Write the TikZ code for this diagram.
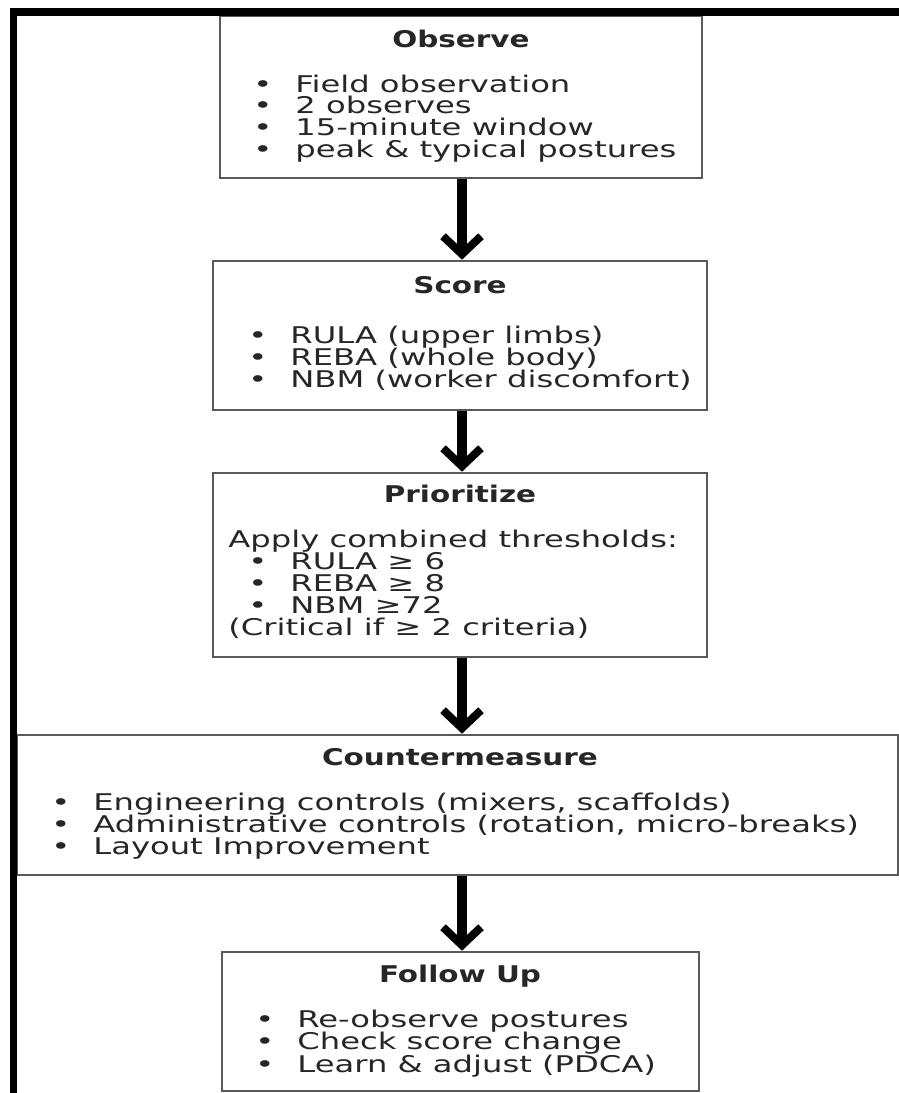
\documentclass[tikz,border=0pt]{standalone}
\usepackage{fontspec}
\setmainfont{DejaVu Sans}[FakeStretch=1.40]
\newfontfamily\headfont{DejaVu Sans}[FakeStretch=1.28]
\usetikzlibrary{arrows.meta, fit, positioning}

\tikzset{
  boxnode/.style={draw=black!65, line width=1.3pt, inner sep=0pt, fill=white},
  headtxt/.style={font=\headfont\bfseries\fontsize{11.5}{11}\selectfont, text=black!85, anchor=base, inner sep=0pt},
  itemtxt/.style={font=\fontsize{11.5}{11}\selectfont, text=black!85, anchor=base west, inner sep=0pt},
  flowarrow/.style={line width=5pt, -{Straight Barb[length=9pt, width=19pt, line width=4pt]}},
}
\newcommand{\bul}{\makebox[21pt][l]{•}}

\begin{document}
\begin{tikzpicture}[x=0.5pt, y=-0.5pt]
  \useasboundingbox (0,0) rectangle (899,1093);

  % the five steps
  \node[boxnode, fit={(220,16) (702,178)}] (observe) {};
  \node[boxnode, fit={(213,261) (707,410)}] (score) {};
  \node[boxnode, fit={(213,473) (707,657)}] (prior) {};
  \node[boxnode, fit={(17,735) (898,875)}] (counter) {};
  \node[boxnode, fit={(222,952) (699,1091)}] (follow) {};

  % frame
  \fill (10,8) rectangle (899,16);
  \fill (10,8) rectangle (17,1093);

  \node[headtxt] (observeT) at (461,47) {Observe};
  \foreach \t [count=\i from 0] in {Field observation, 2 observes, 15-minute window, peak \& typical postures}
    \node[itemtxt] (observe-\i) at (253,92+21.7*\i) {\bul\t};

  \node[headtxt] (scoreT) at (460,293) {Score};
  \foreach \t [count=\i from 0] in {RULA (upper limbs), REBA (whole body), NBM (worker discomfort)}
    \node[itemtxt] (score-\i) at (248,343+22*\i) {\bul\t};

  \node[headtxt] (priorT) at (460,502) {Prioritize};
  \node[itemtxt] (priorA) at (228,547) {Apply combined thresholds:};
  \foreach \t [count=\i from 0] in {RULA ≥ 6, REBA ≥ 8, NBM ≥72}
    \node[itemtxt] (prior-\i) at (248,569+22*\i) {\bul\t};
  \node[itemtxt] (priorC) at (228,635) {(Critical if ≥ 2 criteria)};

  \node[headtxt] (counterT) at (460,765) {Countermeasure};
  \foreach \t [count=\i from 0] in {{Engineering controls (mixers, scaffolds)}, {Administrative controls (rotation, micro-breaks)}, Layout Improvement}
    \node[itemtxt] (counter-\i) at (51,810+22*\i) {\bul\t};

  \node[headtxt] (followT) at (460,982) {Follow Up};
  \foreach \t [count=\i from 0] in {Re-observe postures, Check score change, Learn \& adjust (PDCA)}
    \node[itemtxt] (follow-\i) at (255,1027+22.5*\i) {\bul\t};

  % arrows
  \draw[flowarrow] (observe.south) ++(1,0) coordinate (a1) -- (a1 |- score.north);
  \draw[flowarrow] (score.south) ++(2,0) coordinate (a2) -- (a2 |- prior.north);
  \draw[flowarrow] (prior.south) ++(2,0) coordinate (a3) -- (a3 |- counter.north);
  \draw[flowarrow] (counter.south -| follow.north) ++(1.5,0) coordinate (a4) -- (a4 |- follow.north);
\end{tikzpicture}
\end{document}
